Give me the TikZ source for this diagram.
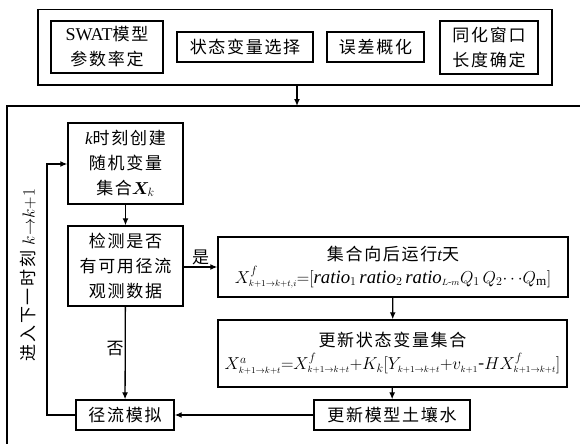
\documentclass[tikz,border=0pt]{standalone}
\usepackage{amsmath}
\usepackage{fontspec}
\setmainfont{Liberation Serif}
\newfontfamily\cjk{Noto Sans CJK SC}[LetterSpace=10]
\usetikzlibrary{arrows.meta}
\tikzset{
  box/.style={draw, line width=1.4pt, inner sep=0pt, align=center,
    font=\cjk\fontsize{17}{25}\selectfont},
  thickbox/.style={box, line width=2.2pt},
  arr/.style={line width=1.3pt, -{Latex[length=7pt,width=6pt]}},
  lbl/.style={font=\cjk\fontsize{17}{18}\selectfont, inner sep=1pt}
}
\begin{document}
\begin{tikzpicture}[x=1pt,y=-1pt]
\useasboundingbox (0,0) rectangle (580,444);
% top group
\node[draw, line width=1.2pt, minimum width=514pt, minimum height=75.5pt, inner sep=0pt] (top) at (295,47.25) {};
\node[thickbox, minimum width=112pt, minimum height=52pt] (swat) at (107,47) {{\rmfamily\fontsize{18}{25}\selectfont SWAT}模型\\参数率定};
\node[box, minimum width=136pt, minimum height=30pt] (state) at (245,47) {状态变量选择};
\node[box, minimum width=97pt, minimum height=30pt] (err) at (375.5,47) {误差概化};
\node[thickbox, minimum width=98pt, minimum height=53pt] (win) at (489,47.5) {同化窗口\\长度确定};
% big region
\coordinate (tl) at (7,106);
\coordinate (tr) at (580,106);
\coordinate (bl) at (7,444);
\draw[line width=2pt] (tr) -- (tl) -- (bl);
\coordinate (topin) at (297,106);
\draw[arr] (top.south -| topin) -- (topin);
% lower nodes
\node[box, minimum width=115pt, minimum height=81pt] (kbox) at (125.5,163.5)
  {{\rmfamily\itshape k}时刻创建\\随机变量\\集合$\boldsymbol{X}_{\!k}$};
\node[box, minimum width=115pt, minimum height=80pt] (check) at (125.5,266)
  {检测是否\\有可用径流\\观测数据};
\node[box, minimum width=350pt, minimum height=60pt] (proc) at (393,267)
  {集合向后运行{\rmfamily\itshape t}天\\[-2pt]
   {\fontsize{18.8}{20}\selectfont$X^{f}_{\scriptscriptstyle k+1\to k+t,i}{=}[\mathit{ratio}_1\,\mathit{ratio}_2\,\mathit{ratio}_{\scriptscriptstyle L\text{-}m}Q_1\,Q_2{\cdots}Q_{\mathrm{m}}]$}};
\node[box, minimum width=349pt, minimum height=67pt] (upd) at (392.5,353.5)
  {更新状态变量集合\\[-2pt]
   {\fontsize{18}{20}\selectfont$X^{a}_{\scriptscriptstyle k+1\to k+t}{=}X^{f}_{\scriptscriptstyle k+1\to k+t}{+}K_{k}[Y_{\scriptscriptstyle k+1\to k+t}{+}v_{\scriptscriptstyle k+1}\text{-}HX^{f}_{\scriptscriptstyle k+1\to k+t}]$}};
\node[box, minimum width=156pt, minimum height=30pt] (soil) at (392,415) {更新模型土壤水};
\node[box, minimum width=98pt, minimum height=30pt] (run) at (125,415) {径流模拟};
% connectors
\draw[arr] (kbox) -- (check);
\draw[arr] (check.east |- proc.west) -- node[lbl, above] {是} (proc.west);
\draw[arr] (proc) -- (upd);
\draw[arr] (upd) -- (soil);
\draw[arr] (soil) -- (run);
\draw[arr] (check) -- node[lbl, left, pos=0.45] {否} (run);
\coordinate (lb) at (47,415);
\coordinate (lt) at (47,164);
\draw[arr] (run.west) -- (lb) -- (lt) -- (lt -| kbox.west);
\node[lbl, rotate=90] (loop) at (28,275) {进入下一时刻 {\rmfamily\fontsize{19}{20}\selectfont$k{\to}k{+}1$}};
\end{tikzpicture}
\end{document}
